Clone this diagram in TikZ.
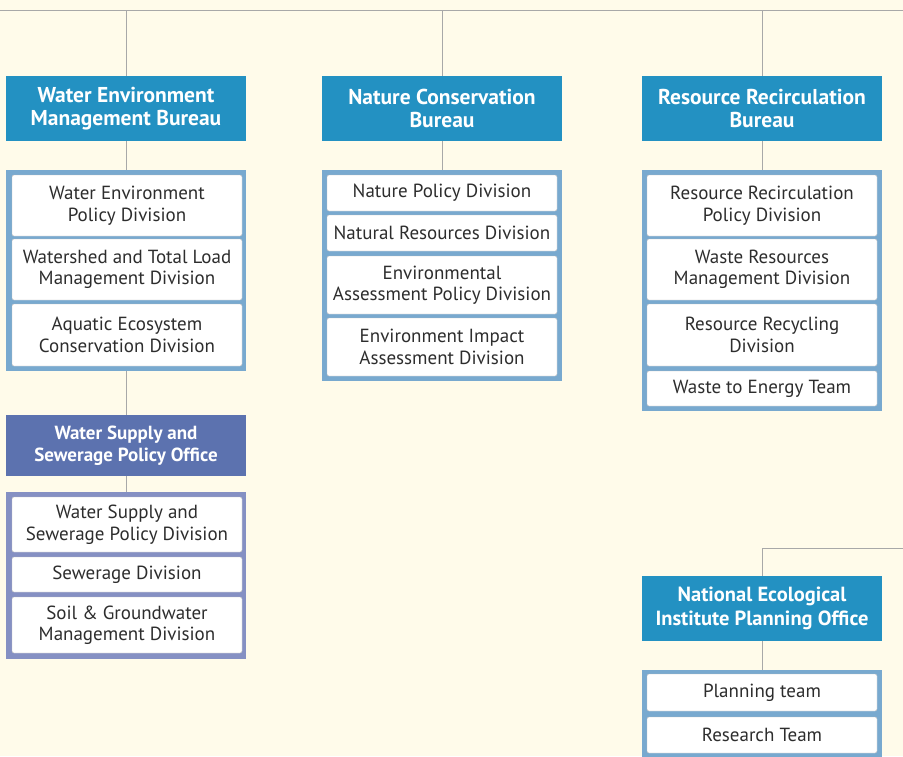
\documentclass[tikz,border=0pt]{standalone}
\usepackage{fontspec}
\setmainfont{PT Sans}
\usetikzlibrary{positioning}
\definecolor{paper}{RGB}{255,251,234}
\definecolor{bureaublue}{RGB}{35,145,194}
\definecolor{officepurple}{RGB}{92,114,175}
\definecolor{frameblue}{RGB}{120,169,207}
\definecolor{framepurple}{RGB}{133,144,195}
\definecolor{linegray}{RGB}{168,168,168}
\definecolor{unitgray}{RGB}{190,190,190}
\definecolor{inkgray}{RGB}{45,45,45}

\begin{document}
\begin{tikzpicture}[x=1pt,y=-1pt,
  head/.style={inner sep=0pt,minimum width=240pt,minimum height=65pt,align=center,text=white,font=\bfseries\fontsize{21.5}{23.5}\selectfont},
  bureau/.style={head,fill=bureaublue},
  office/.style={head,fill=officepurple,minimum height=61pt,font=\bfseries\fontsize{19}{22}\selectfont},
  groupbox/.style={inner sep=0pt,minimum width=240pt},
  bluebox/.style={groupbox,fill=frameblue},
  purplebox/.style={groupbox,fill=framepurple},
  unit/.style={draw=unitgray,fill=white,rounded corners=2pt,inner sep=0pt,minimum width=230pt,align=center,text=inkgray,font=\fontsize{19}{21.5}\selectfont},
  link/.style={draw=linegray,line width=1pt}]
\clip (0,0) rectangle (903,756);
\fill[paper] (0,0) rectangle (903,756);

% top rail
\coordinate (railL) at (0,10);
\coordinate (railR) at (903,10);
\coordinate (rail1) at (126,10);
\coordinate (rail2) at (442,10);
\coordinate (rail3) at (762,10);
\coordinate (railN) at (903,548);
\coordinate (cornerN) at (762,548);

% Water Environment Management Bureau
\node[bureau] (wemb) at (126,108.5) {Water Environment\\Management Bureau};
\node[bluebox,minimum height=201pt] (wembbox) at (126,270.5) {};
\node[unit,minimum height=61pt] (wepd) at (127,205.5) {Water Environment\\Policy Division};
\node[unit,minimum height=61pt] (wtlmd) at (127,269.5) {Watershed and Total Load\\Management Division};
\node[unit,minimum height=62pt] (aecd) at (127,335) {Aquatic Ecosystem\\Conservation Division};

\node[office] (wspo) at (126,445.5) {Water Supply and\\Sewerage Policy Office};
\node[purplebox,minimum height=167pt] (wspobox) at (126,575.5) {};
\node[unit,minimum height=55pt] (wspd) at (127,524.5) {Water Supply and\\Sewerage Policy Division};
\node[unit,minimum height=35pt] (sewd) at (127,574.5) {Sewerage Division};
\node[unit,minimum height=56pt] (sgmd) at (127,625) {Soil \& Groundwater\\Management Division};

% Nature Conservation Bureau
\node[bureau] (ncb) at (442,108.5) {Nature Conservation\\Bureau};
\node[bluebox,minimum height=211pt] (ncbbox) at (442,275.5) {};
\node[unit,minimum height=36pt] (npd) at (442,193) {Nature Policy Division};
\node[unit,minimum height=36pt] (nrd) at (442,233) {Natural Resources Division};
\node[unit,minimum height=58pt] (eapd) at (442,285) {Environmental\\Assessment Policy Division};
\node[unit,minimum height=58pt] (eiad) at (442,347) {Environment Impact\\Assessment Division};

% Resource Recirculation Bureau
\node[bureau] (rrb) at (762,108.5) {Resource Recirculation\\Bureau};
\node[bluebox,minimum height=241pt] (rrbbox) at (762,290.5) {};
\node[unit,minimum height=61pt] (rrpd) at (762,205.5) {Resource Recirculation\\Policy Division};
\node[unit,minimum height=61pt] (wrmd) at (762,269.5) {Waste Resources\\Management Division};
\node[unit,minimum height=62pt] (rrd) at (762,335) {Resource Recycling\\Division};
\node[unit,minimum height=35pt] (wet) at (762,388.5) {Waste to Energy Team};

% National Ecological Institute Planning Office
\node[bureau,font=\bfseries\fontsize{20.5}{24}\selectfont] (neipo) at (762,608.5) {National Ecological\\Institute Planning Office};
\node[bluebox,minimum height=100pt] (neipobox) at (762,720) {};
\node[unit,minimum height=37pt] (plan) at (762,692.5) {Planning team};
\node[unit,minimum height=36pt] (rsch) at (762,735) {Research Team};

% connectors
\draw[link] (railL) -- (railR);
\draw[link] (rail1) -- (wemb.north);
\draw[link] (rail2) -- (ncb.north);
\draw[link] (rail3) -- (rrb.north);
\draw[link] (wemb.south) -- (wembbox.north);
\draw[link] (wembbox.south) -- (wspo.north);
\draw[link] (wspo.south) -- (wspobox.north);
\draw[link] (ncb.south) -- (ncbbox.north);
\draw[link] (rrb.south) -- (rrbbox.north);
\draw[link] (railN) -- (cornerN) -- (neipo.north);
\draw[link] (neipo.south) -- (neipobox.north);
\end{tikzpicture}
\end{document}
